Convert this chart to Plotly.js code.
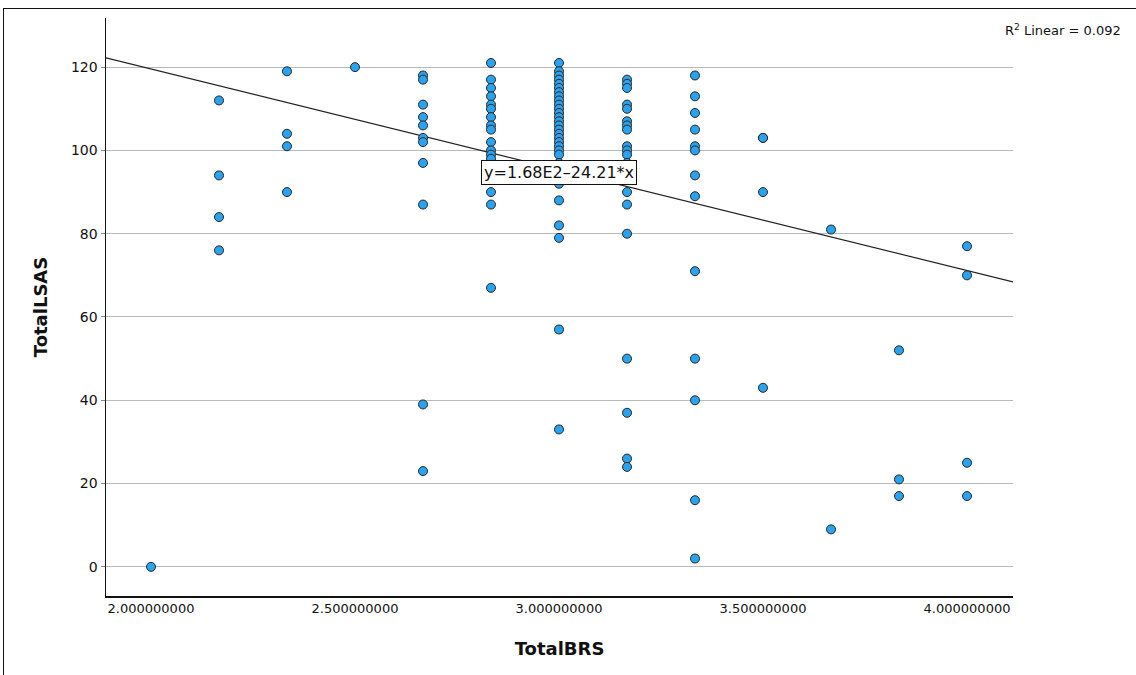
<!DOCTYPE html>
<html>
<head>
<meta charset="utf-8">
<script src="https://cdn.plot.ly/plotly-3.0.1.min.js"></script>
<style>
  html, body { margin: 0; padding: 0; background: #ffffff; }
  #wrap { position: relative; width: 1136px; height: 675px; overflow: hidden; }
  #frame { position: absolute; left: 3px; top: 8px; width: 1200px; height: 700px;
           border-left: 1.5px solid #111; border-top: 1.5px solid #111; pointer-events: none; }
  #chart { position: absolute; left: 0; top: 0; width: 1136px; height: 675px; }
</style>
</head>
<body>
<div id="wrap">
  <div id="chart"></div>
  <div id="frame"></div>
</div>
<script>
// TotalBRS levels (x) and the TotalLSAS values observed at each level (y)
const brsLevels = [2.000, 2.1667, 2.3333, 2.500, 2.6667, 2.8333, 3.000, 3.1667, 3.3333, 3.500, 3.6667, 3.8333, 4.000];
const lsasAt200 = [0];
const lsasAt217 = [112, 94, 84, 76];
const lsasAt233 = [119, 104, 101, 90];
const lsasAt250 = [120];
const lsasAt267 = [118, 117, 111, 108, 106, 103, 102, 97, 87, 39, 23];
const lsasAt283 = [121, 117, 115, 113, 111, 110, 108, 106, 105, 102, 100, 99, 98, 95, 90, 87, 67];
const lsasAt300 = [121, 119, 118, 117, 116, 115, 114, 113, 112, 111, 110, 109, 108, 107, 106, 105, 104, 103, 102, 101, 100, 99, 97, 95, 92, 88, 82, 79, 57, 33];
const lsasAt317 = [117, 116, 115, 111, 110, 107, 106, 105, 101, 100, 99, 97, 95, 90, 87, 80, 50, 37, 26, 24];
const lsasAt333 = [118, 113, 109, 105, 101, 100, 94, 89, 71, 50, 40, 16, 2];
const lsasAt350 = [103, 103, 90, 43];
const lsasAt367 = [81, 9];
const lsasAt383 = [52, 21, 17];
const lsasAt400 = [77, 70, 25, 17];
const lsasByLevel = [lsasAt200, lsasAt217, lsasAt233, lsasAt250, lsasAt267, lsasAt283, lsasAt300,
                     lsasAt317, lsasAt333, lsasAt350, lsasAt367, lsasAt383, lsasAt400];

// Linear fit as reported in the chart
const fitIntercept = 168;
const fitSlope = -24.21;
const fitLabel = 'y=1.68E2\u201324.21*x';
const r2Label = 'R<sup>2</sup> Linear = 0.092';

const xTickVals = [2.0, 2.5, 3.0, 3.5, 4.0];
const yTickVals = [0, 20, 40, 60, 80, 100, 120];
const xRange = [1.8897, 4.1127];
const yRange = [-7, 131.8];

const xs = [], ys = [];
brsLevels.forEach((lv, i) => { lsasByLevel[i].forEach(v => { xs.push(lv); ys.push(v); }); });

const fitX = [xRange[0], xRange[1]];
const fitY = fitX.map(x => fitIntercept + fitSlope * x);

const font = 'DejaVu Sans, Noto Sans, sans-serif';

const traces = [
  { type: 'scatter', mode: 'lines', x: fitX, y: fitY, hoverinfo: 'skip',
    line: { color: '#222222', width: 1.2 } },
  { type: 'scatter', mode: 'markers', x: xs, y: ys,
    marker: { symbol: 'circle', size: 9, color: '#29a3ef', line: { color: '#262626', width: 1 } } }
];

const layout = {
  width: 1136, height: 675,
  margin: { l: 106, r: 123, t: 18, b: 79 },
  paper_bgcolor: 'rgba(0,0,0,0)', plot_bgcolor: '#ffffff',
  showlegend: false,
  font: { family: font, color: '#111111', size: 13 },
  xaxis: {
    range: xRange, tickvals: xTickVals, tickformat: '.9f',
    showgrid: false, zeroline: false,
    showline: true, linecolor: '#111111', linewidth: 1.5, mirror: false,
    ticks: '', tickfont: { size: 13, family: font },
    title: { text: '<b>TotalBRS</b>', font: { size: 18, family: font }, standoff: 27 }
  },
  yaxis: {
    range: yRange, tickvals: yTickVals,
    showgrid: true, gridcolor: '#b9b9b9', gridwidth: 1, zeroline: false,
    showline: true, linecolor: '#111111', linewidth: 1.5, mirror: false,
    ticks: 'outside', ticklen: 4, tickcolor: '#888888',
    tickfont: { size: 14, family: font },
    title: { text: '<b>TotalLSAS</b>', font: { size: 18, family: font }, standoff: 18 }
  },
  annotations: [
    { xref: 'x', yref: 'y', x: 3.0, y: 94.6, text: fitLabel, showarrow: false,
      font: { size: 16, family: font, color: '#111111' },
      bgcolor: '#ffffff', bordercolor: '#111111', borderwidth: 1, borderpad: 2,
      xanchor: 'center', yanchor: 'middle' },
    { xref: 'paper', yref: 'paper', x: 1.0, y: 1.0, xshift: -10, yshift: -2, text: r2Label,
      showarrow: false, xanchor: 'left', yanchor: 'top',
      font: { size: 13, family: font, color: '#111111' } }
  ]
};

Plotly.newPlot('chart', traces, layout, { displayModeBar: false, staticPlot: true });
</script>
</body>
</html>
